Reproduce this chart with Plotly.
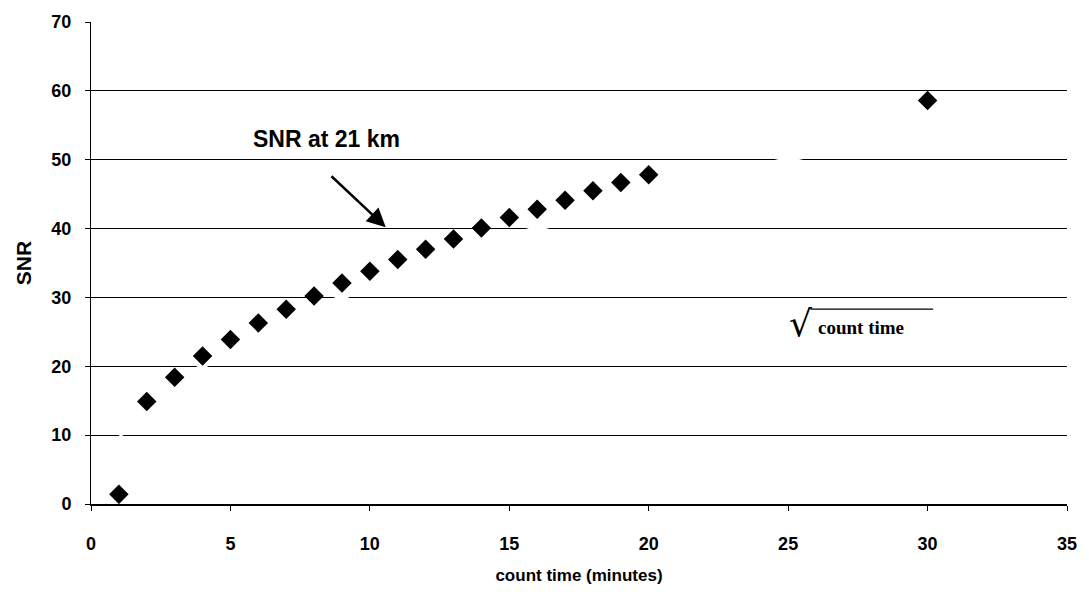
import plotly.graph_objects as go

# measured SNR vs count time
count_time = [1, 2, 3, 4, 5, 6, 7, 8, 9, 10, 11, 12, 13, 14, 15, 16, 17, 18, 19, 20, 30]
snr = [1.4, 14.9, 18.4, 21.5, 23.9, 26.3, 28.3, 30.2, 32.1, 33.8, 35.5, 37.0, 38.5,
       40.1, 41.6, 42.8, 44.1, 45.5, 46.7, 47.8, 58.6]

# faint sqrt(count time) reference curve (read where it cuts gridlines / faint marks)
ref_x = [1, 4, 7.2, 9, 10.2, 13.1, 16, 20, 25, 30]
ref_y = [10, 20, 26.9, 30, 32.3, 36.3, 40, 44.7, 50, 54.8]

x_ticks = [0, 5, 10, 15, 20, 25, 30, 35]
y_ticks = [0, 10, 20, 30, 40, 50, 60, 70]

FONT = "Liberation Sans, Arial, sans-serif"
SERIF = "Liberation Serif, Times New Roman, serif"

fig = go.Figure()
fig.add_trace(go.Scatter(x=ref_x, y=ref_y, mode="lines",
                         line=dict(color="white", width=6, shape="spline"),
                         hoverinfo="skip", showlegend=False))
fig.add_trace(go.Scatter(x=count_time, y=snr, mode="markers",
                         marker=dict(symbol="diamond", size=15, color="black"),
                         showlegend=False))

fig.add_annotation(x=10.57, y=40.2, ax=8.57, ay=47.8, axref="x", ayref="y",
                   xref="x", yref="y", text="", showarrow=True,
                   arrowhead=2, arrowsize=1.5, arrowwidth=2.5, arrowcolor="black")
fig.add_annotation(x=8.45, y=53.0, xref="x", yref="y", text="SNR at 21 km",
                   showarrow=False,
                   font=dict(family=FONT, size=23, color="black", weight="bold"))
# sqrt(count time) label: radical, overline, text
fig.add_annotation(x=25.45, y=26.2, xref="x", yref="y", text="√", showarrow=False,
                   font=dict(family="DejaVu Sans, sans-serif", size=36, color="black"))
fig.add_shape(type="line", x0=25.8, x1=30.2, y0=28.3, y1=28.3, xref="x", yref="y",
              line=dict(color="black", width=1.2))
fig.add_annotation(x=27.6, y=25.6, xref="x", yref="y", text="count time",
                   showarrow=False,
                   font=dict(family=SERIF, size=19, color="black", weight="bold"))

fig.update_layout(
    width=1089, height=594,
    margin=dict(l=91, r=19, t=21, b=87),
    paper_bgcolor="white", plot_bgcolor="white",
    font=dict(family=FONT, color="black"),
)
fig.update_xaxes(range=[0, 35], tickvals=x_ticks,
                 tickfont=dict(size=18, weight="bold"), showgrid=False, zeroline=False,
                 showline=True, linecolor="black", linewidth=1.5,
                 ticks="outside", ticklen=5, tickcolor="black", ticklabelstandoff=18,
                 title=dict(text="count time (minutes)", font=dict(size=17, weight="bold"),
                            standoff=16))
fig.update_yaxes(range=[0, 70], tickvals=y_ticks,
                 tickfont=dict(size=18, weight="bold"), showgrid=True, gridcolor="black",
                 gridwidth=1, zeroline=False, showline=True, linecolor="black", linewidth=1,
                 ticks="outside", ticklen=5, tickcolor="black", ticklabelstandoff=10,
                 layer="below traces",
                 title=dict(text="SNR", font=dict(size=21, weight="bold"), standoff=14))

fig.write_html("out.html")
